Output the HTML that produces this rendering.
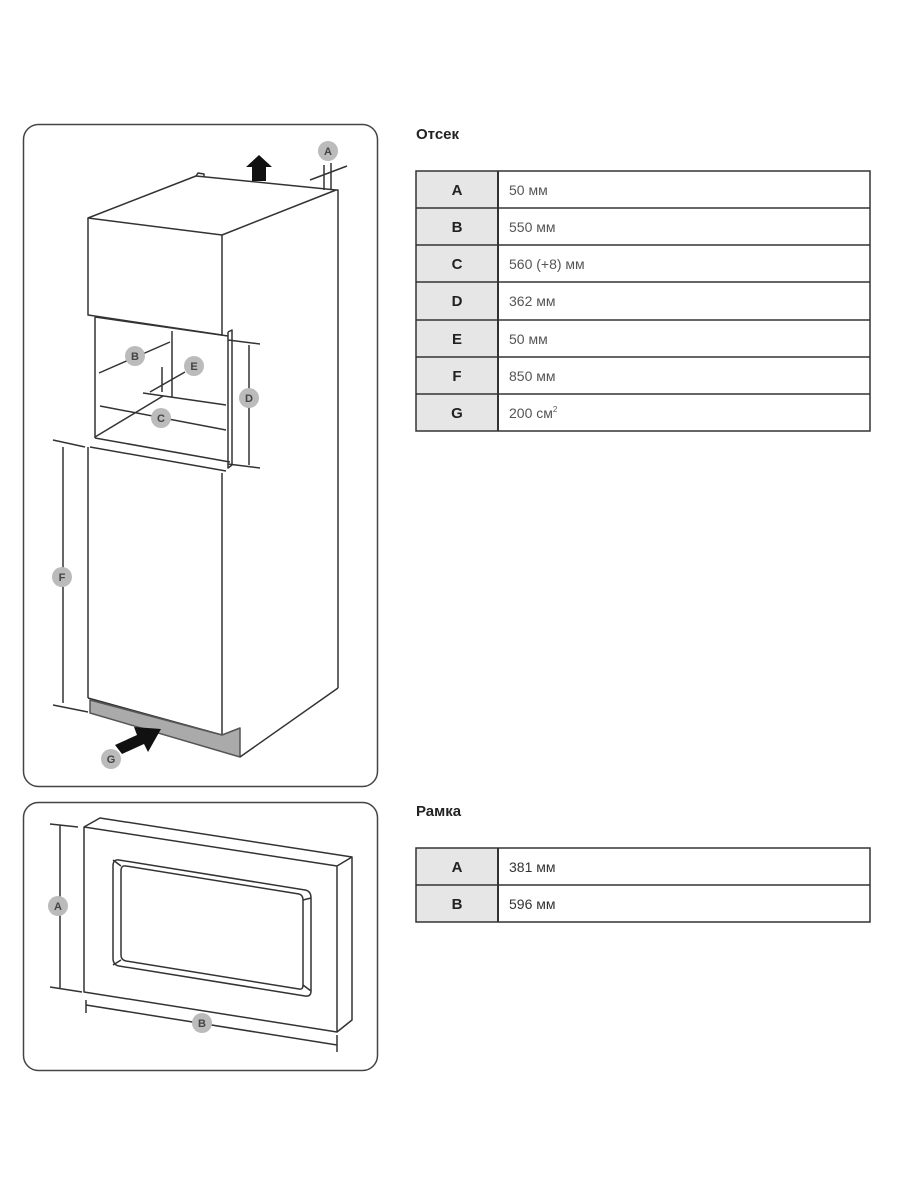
<!DOCTYPE html>
<html><head><meta charset="utf-8"><style>
html,body{margin:0;padding:0;background:#fff;}
svg{display:block;}
text{font-family:"Liberation Sans",sans-serif;}
</style></head><body>
<svg width="900" height="1200" viewBox="0 0 900 1200" xmlns="http://www.w3.org/2000/svg">
<g fill="none" stroke="#333" stroke-width="1.5" stroke-linejoin="round">
<rect x="23.5" y="124.5" width="354" height="662" rx="15" stroke="#444"/>
<rect x="23.5" y="802.5" width="354" height="268" rx="15" stroke="#444"/>

<path d="M88,218 L196,176 L336,190 L222,235 Z" fill="#fff"/>
<path d="M196,176 L198,173 L204,174 L204,177"/>
<path d="M88,218 L88,315 L222,335 L222,235"/>
<path d="M336,190 L338,190 L338,688"/>
<path d="M95,317 L95,438"/>
<path d="M95,317 L228,336"/>
<path d="M228,332 L232,330 L232,465 L228,468 L228,332"/>
<path d="M172,331 L172,397"/>
<path d="M95,437 L163,396"/>
<path d="M143,393 L226,405"/>
<path d="M100,406 L226,430"/>
<path d="M95,438 L230,462"/>
<path d="M90,447 L226,471"/>
<path d="M88,447 L88,698"/>
<path d="M222,473 L222,735"/>
<path d="M88,698 L222,735"/>
<path d="M90,700 L222,735 L240,728 L240,757 L90,713 Z" fill="#aaa" stroke="#555"/>
<path d="M240,757 L338,688"/>

<path d="M228,340 L260,344 M228,464 L260,468 M249,345 L249,465"/>
<path d="M53,440 L85,447 M53,705 L88,712 M63,447 L63,703"/>
<path d="M324,165 L324,190 M331,163 L331,190 M310,180 L347,166"/>
<path d="M99,373 L170,342"/>
<path d="M150,392 L185,372 M162,367 L162,392"/>

<path d="M84,827 L100,818 L352,857 L352,1020 L337,1032 L84,992 Z" fill="#fff"/>
<path d="M84,827 L337,866 L352,857 M337,866 L337,1032"/>
<path d="M119,860 L305,890 Q311,891 311,898 L311,991 Q311,997 305,996 L119,966 Q113,965 113,958 L113,866 Q113,859 119,860 Z"/>
<path d="M126,866 L299,894 Q303,895 303,900 L303,985 Q303,990 299,989 L126,961 Q121,960 121,955 L121,871 Q121,865 126,866 Z"/>
<path d="M113,860 L121,866 M113,965 L121,960 M311,898 L303,900 M311,991 L303,985"/>
<path d="M50,824 L78,827 M50,987 L82,992 M60,825 L60,988"/>
<path d="M86,1005 L337,1045 M86,1000 L86,1013 M337,1035 L337,1052"/>
</g>

<path d="M252,181 L252,167 L246,167 L259,155 L272,167 L266,167 L266,181 Z" fill="#111"/>
<path d="M115,745 L137,735 L134,727 L161,729 L148,752 L144,744 L122,754 Z" fill="#111"/>

<g font-size="11" font-weight="bold" fill="#444" text-anchor="middle">
<g><circle cx="328" cy="151" r="10" fill="#bbb"/><text x="328" y="155">A</text></g>
<g><circle cx="135" cy="356" r="10" fill="#bbb"/><text x="135" y="360">B</text></g>
<g><circle cx="194" cy="366" r="10" fill="#bbb"/><text x="194" y="370">E</text></g>
<g><circle cx="161" cy="418" r="10" fill="#bbb"/><text x="161" y="422">C</text></g>
<g><circle cx="249" cy="398" r="10" fill="#bbb"/><text x="249" y="402">D</text></g>
<g><circle cx="62" cy="577" r="10" fill="#bbb"/><text x="62" y="581">F</text></g>
<g><circle cx="111" cy="759" r="10" fill="#bbb"/><text x="111" y="763">G</text></g>
<g><circle cx="58" cy="906" r="10" fill="#bbb"/><text x="58" y="910">A</text></g>
<g><circle cx="202" cy="1023" r="10" fill="#bbb"/><text x="202" y="1027">B</text></g>
</g>

<text x="416" y="139" font-size="15" font-weight="bold" fill="#222">Отсек</text>
<rect x="416" y="171" width="82" height="260" fill="#e6e6e6"/>
<g stroke="#333" stroke-width="1.5" fill="none">
<rect x="416" y="171" width="454" height="260"/>
<line x1="498" y1="171" x2="498" y2="431" stroke-width="2"/>
<line x1="416" y1="208" x2="870" y2="208"/>
<line x1="416" y1="245" x2="870" y2="245"/>
<line x1="416" y1="282" x2="870" y2="282"/>
<line x1="416" y1="320" x2="870" y2="320"/>
<line x1="416" y1="357" x2="870" y2="357"/>
<line x1="416" y1="394" x2="870" y2="394"/>
</g>
<g font-size="15" font-weight="bold" fill="#222" text-anchor="middle">
<text x="457" y="195">A</text><text x="457" y="232">B</text><text x="457" y="269">C</text>
<text x="457" y="306">D</text><text x="457" y="344">E</text><text x="457" y="381">F</text><text x="457" y="418">G</text>
</g>
<g font-size="14" fill="#555">
<text x="509" y="195">50 мм</text><text x="509" y="232">550 мм</text><text x="509" y="269">560 (+8) мм</text>
<text x="509" y="306">362 мм</text><text x="509" y="344">50 мм</text><text x="509" y="381">850 мм</text>
<text x="509" y="418">200 см<tspan font-size="8" dy="-6">2</tspan></text>
</g>

<text x="416" y="816" font-size="15" font-weight="bold" fill="#222">Рамка</text>
<rect x="416" y="848" width="82" height="74" fill="#e6e6e6"/>
<g stroke="#333" stroke-width="1.5" fill="none">
<rect x="416" y="848" width="454" height="74"/>
<line x1="498" y1="848" x2="498" y2="922" stroke-width="2"/>
<line x1="416" y1="885" x2="870" y2="885"/>
</g>
<g font-size="15" font-weight="bold" fill="#222" text-anchor="middle">
<text x="457" y="872">A</text><text x="457" y="909">B</text>
</g>
<g font-size="14" fill="#333">
<text x="509" y="872">381 мм</text><text x="509" y="909">596 мм</text>
</g>
</svg>
</body></html>
